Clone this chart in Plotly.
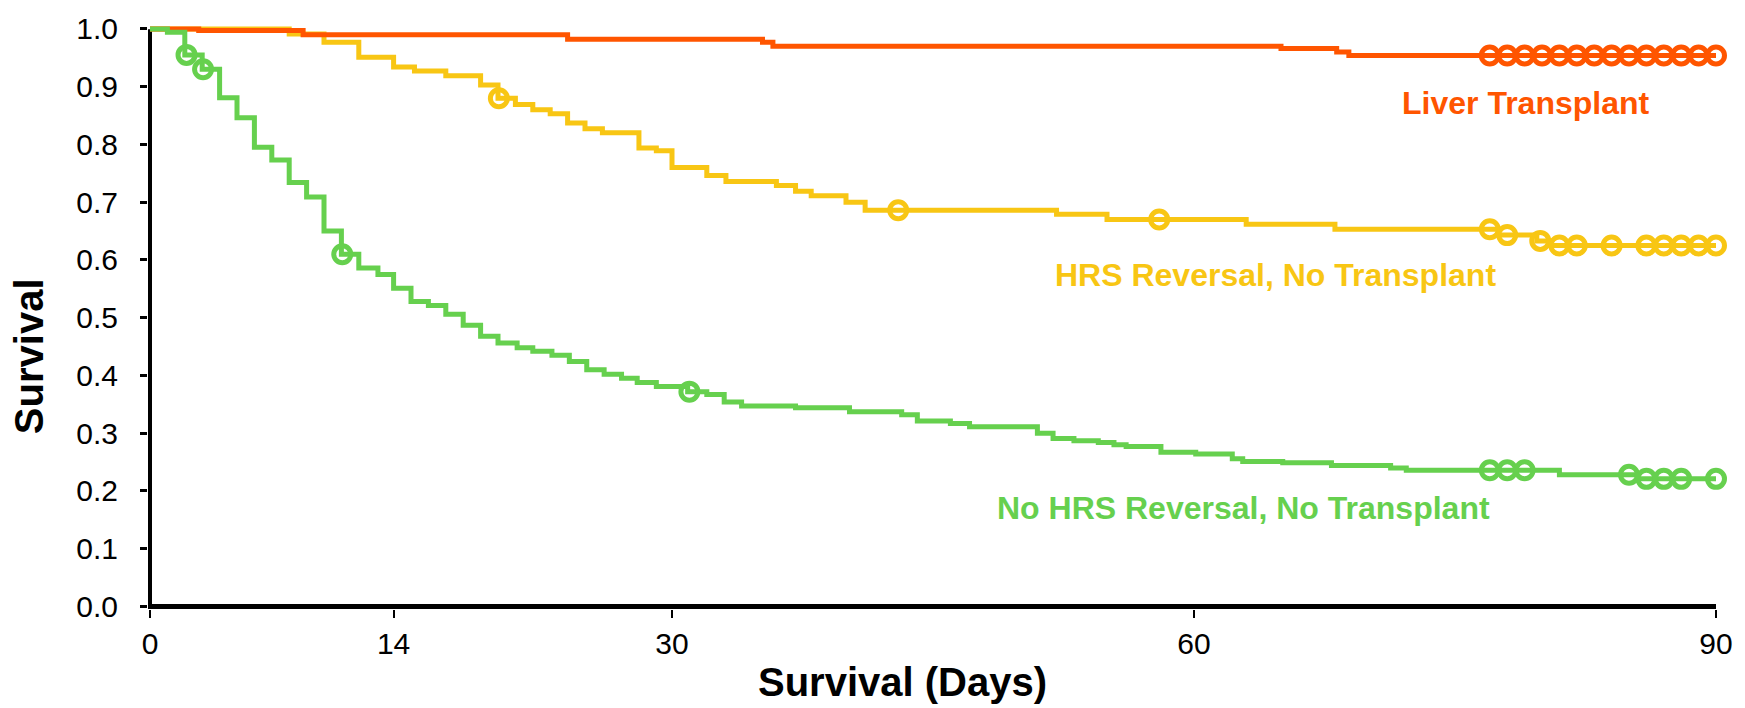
import numpy as np
import plotly.graph_objects as go

# ---------------- data ----------------
# Liver Transplant
lt_times = [0, 2.8, 8.8, 24.0, 35.2, 35.8, 65.0, 68.2, 68.9]
lt_surv = [1.0, 0.997, 0.990, 0.982, 0.977, 0.970, 0.966, 0.960, 0.954]
lt_censor = [77, 78, 79, 80, 81, 82, 83, 84, 85, 86, 87, 88, 89, 90]

# HRS Reversal, No Transplant
hrs_times = [0, 8.0, 10.0, 12.0, 14.0, 15.2, 17.0, 19.0, 20.0, 21.0, 22.0, 23.0,
             24.0, 25.0, 26.0, 28.1, 29.1, 30.0, 32.0, 33.1, 36.0, 37.1, 38.0,
             40.0, 41.1, 52.1, 55.0, 63.0, 68.1, 77.5, 79.7, 80.5]
hrs_surv = [1.0, 0.991, 0.977, 0.951, 0.934, 0.927, 0.919, 0.903, 0.880, 0.869,
            0.860, 0.853, 0.837, 0.827, 0.820, 0.794, 0.789, 0.760, 0.746, 0.736,
            0.729, 0.719, 0.711, 0.700, 0.686, 0.679, 0.670, 0.662, 0.653, 0.643,
            0.633, 0.625]
hrs_censor = [20.05, 43.0, 58.0, 77.0, 78.0, 79.9, 81.0, 82.0, 84.0, 86.0, 87.0,
              88.0, 89.0, 90.0]

# No HRS Reversal, No Transplant
no_times = [0, 1.0, 2.0, 3.0, 4.0, 5.0, 6.0, 7.0, 8.0, 9.0, 10.0, 11.0, 12.0,
            13.1, 14.0, 15.0, 16.0, 17.0, 18.0, 19.0, 20.0, 21.1, 22.0, 23.1,
            24.1, 25.1, 26.1, 27.1, 28.0, 29.1, 30.9, 32.0, 33.0, 34.0, 37.1,
            40.2, 43.2, 44.1, 46.0, 47.1, 51.0, 51.9, 53.1, 54.5, 55.4, 56.1,
            58.1, 60.1, 62.2, 62.8, 65.1, 67.9, 71.3, 72.2, 81.0, 85.5]
no_surv = [1.0, 0.994, 0.955, 0.930, 0.881, 0.846, 0.795, 0.773, 0.734, 0.709,
           0.650, 0.610, 0.586, 0.575, 0.551, 0.528, 0.521, 0.506, 0.487, 0.468,
           0.456, 0.448, 0.442, 0.435, 0.424, 0.410, 0.402, 0.395, 0.388, 0.381,
           0.372, 0.367, 0.354, 0.347, 0.344, 0.337, 0.332, 0.321, 0.317, 0.311,
           0.300, 0.291, 0.287, 0.284, 0.280, 0.277, 0.267, 0.264, 0.256, 0.251,
           0.249, 0.244, 0.240, 0.236, 0.228, 0.221]
no_censor = [2.1, 3.05, 11.05, 31.0, 77.0, 78.0, 79.0, 85.0, 86.0, 87.0, 88.0, 90.0]

x_ticks = [0, 14, 30, 60, 90]
y_ticks = [0.0, 0.1, 0.2, 0.3, 0.4, 0.5, 0.6, 0.7, 0.8, 0.9, 1.0]
END_DAY = 90

label_lt = "Liver Transplant"
label_hrs = "HRS Reversal, No Transplant"
label_no = "No HRS Reversal, No Transplant"

ORANGE = "#FF5500"
YELLOW = "#F8C614"
GREEN = "#66D04E"

FONT = "Liberation Sans, Arial, sans-serif"

W, H = 1745, 708
ML, MR, MT, MB = 148, 22, 20, 99


def step_value(times, surv, t):
    idx = np.searchsorted(np.asarray(times), t, side="right") - 1
    return float(np.asarray(surv)[idx])


fig = go.Figure()


def add_group(times, surv, censor, color, name):
    xs = list(times) + [END_DAY]
    ys = list(surv) + [surv[-1]]
    fig.add_trace(go.Scatter(
        x=xs, y=ys, mode="lines", line=dict(color=color, width=5, shape="hv"),
        name=name, showlegend=False, hoverinfo="skip"))
    cy = [step_value(times, surv, t) for t in censor]
    fig.add_trace(go.Scatter(
        x=censor, y=cy, mode="markers", cliponaxis=False,
        marker=dict(symbol="circle-open", size=17, color=color,
                    line=dict(width=5, color=color)),
        name=name, showlegend=False))


add_group(hrs_times, hrs_surv, hrs_censor, YELLOW, label_hrs)
add_group(lt_times, lt_surv, lt_censor, ORANGE, label_lt)
add_group(no_times, no_surv, no_censor, GREEN, label_no)

pw = W - ML - MR
ph = H - MT - MB


def px(xp):
    return (xp - ML) / pw


def py(yp):
    return 1 - (yp - MT) / ph


annotations = [
    dict(text=label_lt, x=px(1532), y=py(98), xref="paper", yref="paper",
         showarrow=False, xanchor="center", yanchor="middle",
         font=dict(family=FONT, size=32, color=ORANGE, weight="bold")),
    dict(text=label_hrs, x=px(1281), y=py(272), xref="paper", yref="paper",
         showarrow=False, xanchor="center", yanchor="middle",
         font=dict(family=FONT, size=32, color=YELLOW, weight="bold")),
    dict(text=label_no, x=px(1248), y=py(507), xref="paper", yref="paper",
         showarrow=False, xanchor="center", yanchor="middle",
         font=dict(family=FONT, size=32, color=GREEN, weight="bold")),
    dict(text="Survival (Days)", x=px(906), y=py(683), xref="paper", yref="paper",
         showarrow=False, xanchor="center", yanchor="middle",
         font=dict(family=FONT, size=40, color="black", weight="bold")),
    dict(text="Survival", x=px(28), y=py(354), xref="paper", yref="paper",
         showarrow=False, xanchor="center", yanchor="middle", textangle=-90,
         font=dict(family=FONT, size=40, color="black", weight="bold")),
]

# axis lines centred on the zero values (as in the reference)
shapes = [
    dict(type="line", xref="paper", yref="y", x0=0, x1=1, y0=0, y1=0,
         line=dict(color="black", width=5), layer="below"),
    dict(type="line", xref="x", yref="paper", x0=0, x1=0, y0=0, y1=py(23.3),
         line=dict(color="black", width=4), layer="below"),
]

fig.update_layout(
    width=W, height=H,
    margin=dict(l=ML, r=MR, t=MT, b=MB, pad=0),
    paper_bgcolor="white", plot_bgcolor="white",
    showlegend=False,
    annotations=annotations,
    shapes=shapes,
    font=dict(family=FONT, color="black"),
)

fig.update_xaxes(
    range=[-0.115, 90], tickvals=x_ticks, ticktext=[str(v) for v in x_ticks],
    showgrid=False, zeroline=False, showline=False,
    ticks="outside", ticklen=8, tickwidth=2, tickcolor="black",
    tickfont=dict(family=FONT, size=30, color="black"), ticklabelstandoff=0,
)
fig.update_yaxes(
    range=[-0.0043, 1.005], tickvals=y_ticks, ticktext=[f"{v:.1f}" for v in y_ticks],
    showgrid=False, zeroline=False, showline=False,
    ticks="outside", ticklen=7, tickwidth=3, tickcolor="black",
    tickfont=dict(family=FONT, size=30, color="black"), ticklabelstandoff=16,
)

fig.write_html("out.html")
